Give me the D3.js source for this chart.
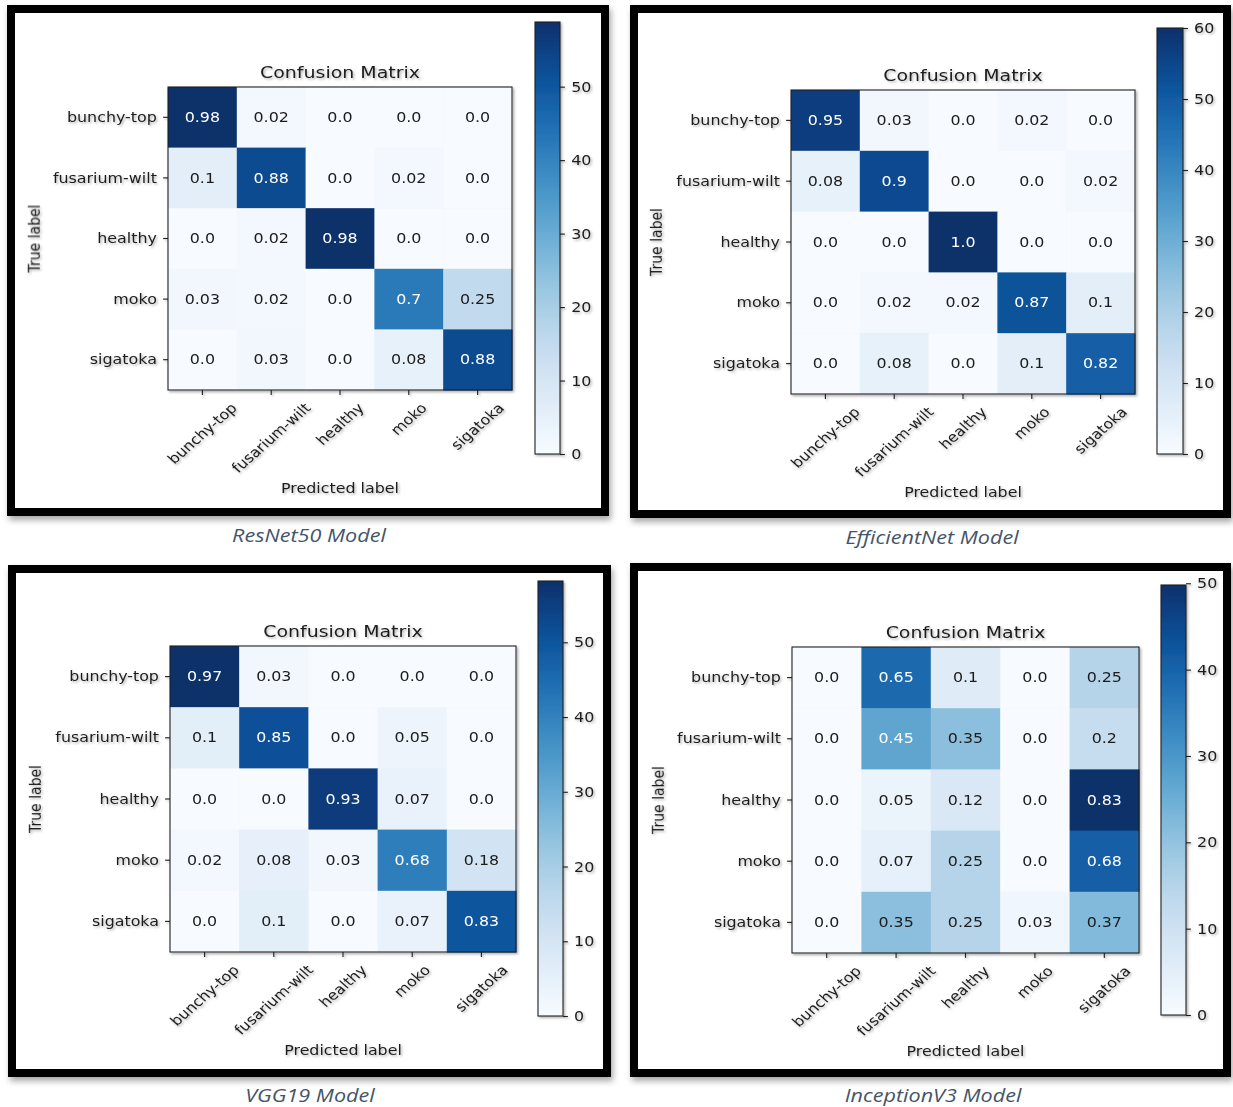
<!DOCTYPE html>
<html>
<head>
<meta charset="utf-8">
<script src="https://cdn.jsdelivr.net/npm/d3@7"></script>
<style>
  html, body { margin: 0; padding: 0; background: #ffffff; }
  svg { display: block; }
</style>
</head>
<body>
<svg id="fig" width="1233" height="1107"></svg>
<script>
// ---- data ---------------------------------------------------------------
const classes = ["bunchy-top", "fusarium-wilt", "healthy", "moko", "sigatoka"];

// normalised confusion matrices (rows = true label, cols = predicted label)
const resnet50 = [
  [0.98, 0.02, 0.0, 0.0, 0.0],
  [0.1, 0.88, 0.0, 0.02, 0.0],
  [0.0, 0.02, 0.98, 0.0, 0.0],
  [0.03, 0.02, 0.0, 0.7, 0.25],
  [0.0, 0.03, 0.0, 0.08, 0.88]
];
const efficientNet = [
  [0.95, 0.03, 0.0, 0.02, 0.0],
  [0.08, 0.9, 0.0, 0.0, 0.02],
  [0.0, 0.0, 1.0, 0.0, 0.0],
  [0.0, 0.02, 0.02, 0.87, 0.1],
  [0.0, 0.08, 0.0, 0.1, 0.82]
];
const vgg19 = [
  [0.97, 0.03, 0.0, 0.0, 0.0],
  [0.1, 0.85, 0.0, 0.05, 0.0],
  [0.0, 0.0, 0.93, 0.07, 0.0],
  [0.02, 0.08, 0.03, 0.68, 0.18],
  [0.0, 0.1, 0.0, 0.07, 0.83]
];
const inceptionV3 = [
  [0.0, 0.65, 0.1, 0.0, 0.25],
  [0.0, 0.45, 0.35, 0.0, 0.2],
  [0.0, 0.05, 0.12, 0.0, 0.83],
  [0.0, 0.07, 0.25, 0.0, 0.68],
  [0.0, 0.35, 0.25, 0.03, 0.37]
];

// test images per class; cell colour follows the image count
const samplesPerClass = 60;

const modelNames = ["ResNet50 Model", "EfficientNet Model", "VGG19 Model", "InceptionV3 Model"];
const colorbarTicks = [
  [0, 10, 20, 30, 40, 50],
  [0, 10, 20, 30, 40, 50, 60],
  [0, 10, 20, 30, 40, 50],
  [0, 10, 20, 30, 40, 50]
];
const matrices = [resnet50, efficientNet, vgg19, inceptionV3];

// ---- layout -------------------------------------------------------------
const layouts = [
  { frame: [7, 5, 609, 516],    m: { x: 168, y: 87,  w: 344, h: 303 }, cb: { x: 535,  top: 22,  bottom: 454,  w: 25 }, cap: [309, 535] },
  { frame: [630, 5, 1231, 518], m: { x: 791, y: 90,  w: 344, h: 304 }, cb: { x: 1157, top: 28,  bottom: 454,  w: 26 }, cap: [932, 537] },
  { frame: [8, 565, 611, 1077], m: { x: 170, y: 646, w: 346, h: 306 }, cb: { x: 538,  top: 581, bottom: 1016, w: 25 }, cap: [310, 1095] },
  { frame: [630, 563, 1231, 1077], m: { x: 792, y: 647, w: 347, h: 306 }, cb: { x: 1161, top: 585, bottom: 1015, w: 25 }, cap: [933, 1095] }
];

const FONT = "'DejaVu Sans', sans-serif";
const INK = "#1c1c1c";
const TICK = 4.9, PAD = 4.9;

const svg = d3.select("#fig");
const defs = svg.append("defs");

defs.append("filter").attr("id", "frameShadow")
  .attr("x", "-5%").attr("y", "-5%").attr("width", "115%").attr("height", "115%")
  .append("feDropShadow").attr("dx", 2).attr("dy", 4).attr("stdDeviation", 3)
  .attr("flood-color", "#000").attr("flood-opacity", 0.35);

defs.append("filter").attr("id", "inkShadow")
  .attr("x", "-10%").attr("y", "-10%").attr("width", "125%").attr("height", "125%")
  .append("feDropShadow").attr("dx", 1.5).attr("dy", 1.5).attr("stdDeviation", 1.3)
  .attr("flood-color", "#000").attr("flood-opacity", 0.3);

const fmt = v => { const s = String(v); return s.includes(".") ? s : s + ".0"; };

function drawPanel(idx) {
  const L = layouts[idx];
  const data = matrices[idx];
  const sx = L.m.w / L.m.h;              // horizontal stretch of the plot image

  // outer black frame
  const [fx0, fy0, fx1, fy1] = L.frame;
  svg.append("rect")
    .attr("x", fx0 + 4).attr("y", fy0 + 4)
    .attr("width", fx1 - fx0 - 8).attr("height", fy1 - fy0 - 8)
    .attr("fill", "#ffffff").attr("stroke", "#000").attr("stroke-width", 8)
    .attr("filter", "url(#frameShadow)");

  const g = svg.append("g").attr("filter", "url(#inkShadow)");

  const x = d3.scaleBand().domain(classes).range([L.m.x, L.m.x + L.m.w]);
  const y = d3.scaleBand().domain(classes).range([L.m.y, L.m.y + L.m.h]);

  const cells = [];
  data.forEach((row, i) => row.forEach((v, j) => cells.push({ t: classes[i], p: classes[j], v, n: v * samplesPerClass })));
  const maxN = d3.max(cells, d => d.n);
  const color = d3.scaleSequential(d3.interpolateBlues).domain([0, maxN]);

  // heat-map cells
  g.append("g").selectAll("rect").data(cells).join("rect")
    .attr("x", d => x(d.p)).attr("y", d => y(d.t))
    .attr("width", x.bandwidth() + 0.5).attr("height", y.bandwidth() + 0.5)
    .attr("fill", d => color(d.n));

  // cell annotations
  g.append("g").selectAll("text").data(cells).join("text")
    .attr("transform", d => `translate(${x(d.p) + x.bandwidth() / 2},${y(d.t) + y.bandwidth() / 2}) scale(${sx},1)`)
    .attr("text-anchor", "middle").attr("dominant-baseline", "central")
    .attr("font-family", FONT).attr("font-size", 14)
    .attr("fill", d => d.n > maxN / 2 ? "#ffffff" : INK)
    .text(d => fmt(d.v));

  // spines
  g.append("rect")
    .attr("x", L.m.x).attr("y", L.m.y).attr("width", L.m.w).attr("height", L.m.h)
    .attr("fill", "none").attr("stroke", "#222").attr("stroke-width", 1.1);

  // y axis (true label)
  const yAxis = g.append("g").attr("transform", `translate(${L.m.x},0)`)
    .call(d3.axisLeft(y).tickSize(TICK).tickPadding(PAD));
  yAxis.select(".domain").remove();
  yAxis.selectAll(".tick line").attr("stroke", INK).attr("stroke-width", 1.1);
  yAxis.selectAll(".tick text")
    .attr("x", null).attr("dy", null)
    .attr("transform", `translate(${-(TICK + PAD) * sx},0) scale(${sx},1)`)
    .attr("dominant-baseline", "central")
    .attr("font-family", FONT).attr("font-size", 14).attr("fill", INK);

  // x axis (predicted label), labels rotated 45 degrees and centred on the tick
  const bottom = L.m.y + L.m.h;
  const xAxis = g.append("g").attr("transform", `translate(0,${bottom})`)
    .call(d3.axisBottom(x).tickSize(TICK).tickPadding(PAD));
  xAxis.select(".domain").remove();
  xAxis.selectAll(".tick line").attr("stroke", INK).attr("stroke-width", 1.1);
  const lineH = 14 * 1.16;
  xAxis.selectAll(".tick text")
    .attr("y", null).attr("dy", null)
    .attr("text-anchor", "middle").attr("dominant-baseline", "central")
    .attr("font-family", FONT).attr("font-size", 14).attr("fill", INK)
    .attr("transform", function () {
      const w = this.getComputedTextLength();
      const bh = (w + lineH) * Math.SQRT1_2;
      return `translate(0,${TICK + PAD + bh / 2}) scale(${sx},1) rotate(-45)`;
    });

  // title and axis labels
  g.append("text")
    .attr("transform", `translate(${L.m.x + L.m.w / 2},${L.m.y - 15.5}) scale(${sx},1)`)
    .attr("text-anchor", "middle").attr("dominant-baseline", "central")
    .attr("font-family", FONT).attr("font-size", 16.7).attr("fill", INK)
    .text("Confusion Matrix");
  g.append("text")
    .attr("transform", `translate(${L.m.x + L.m.w / 2},${bottom + 98}) scale(${sx},1)`)
    .attr("text-anchor", "middle").attr("dominant-baseline", "central")
    .attr("font-family", FONT).attr("font-size", 14).attr("fill", INK)
    .text("Predicted label");
  g.append("text")
    .attr("transform", `translate(${L.m.x - 134},${L.m.y + L.m.h / 2}) scale(${sx},1) rotate(-90)`)
    .attr("text-anchor", "middle").attr("dominant-baseline", "central")
    .attr("font-family", FONT).attr("font-size", 14).attr("fill", INK)
    .text("True label");

  // colour bar
  const cy = d3.scaleLinear().domain([0, maxN]).range([L.cb.bottom, L.cb.top]);
  const gid = "cbGrad" + idx;
  const grad = defs.append("linearGradient").attr("id", gid)
    .attr("x1", 0).attr("y1", 1).attr("x2", 0).attr("y2", 0);
  d3.range(0, 1.0001, 0.05).forEach(t => {
    grad.append("stop").attr("offset", t).attr("stop-color", d3.interpolateBlues(t));
  });
  g.append("rect")
    .attr("x", L.cb.x).attr("y", cy(maxN)).attr("width", L.cb.w).attr("height", cy(0) - cy(maxN))
    .attr("fill", `url(#${gid})`).attr("stroke", "#222").attr("stroke-width", 1.1);
  const cbAxis = g.append("g").attr("transform", `translate(${L.cb.x + L.cb.w},0)`)
    .call(d3.axisRight(cy).tickValues(colorbarTicks[idx]).tickFormat(d3.format("d")).tickSize(TICK).tickPadding(PAD));
  cbAxis.select(".domain").remove();
  cbAxis.selectAll(".tick line").attr("stroke", INK).attr("stroke-width", 1.1);
  cbAxis.selectAll(".tick text")
    .attr("x", null).attr("dy", null)
    .attr("transform", `translate(${(TICK + PAD) * sx},0) scale(${sx},1)`)
    .attr("dominant-baseline", "central")
    .attr("font-family", FONT).attr("font-size", 14).attr("fill", INK);

  // caption under the frame
  svg.append("text")
    .attr("transform", `translate(${L.cap[0]},${L.cap[1]}) scale(1.2,1)`)
    .attr("text-anchor", "middle").attr("dominant-baseline", "central")
    .attr("font-family", "'Open Sans', sans-serif").attr("font-style", "italic")
    .attr("font-size", 18).attr("fill", "#44546a")
    .text(modelNames[idx]);
}

[0, 1, 2, 3].forEach(drawPanel);
</script>
</body>
</html>
